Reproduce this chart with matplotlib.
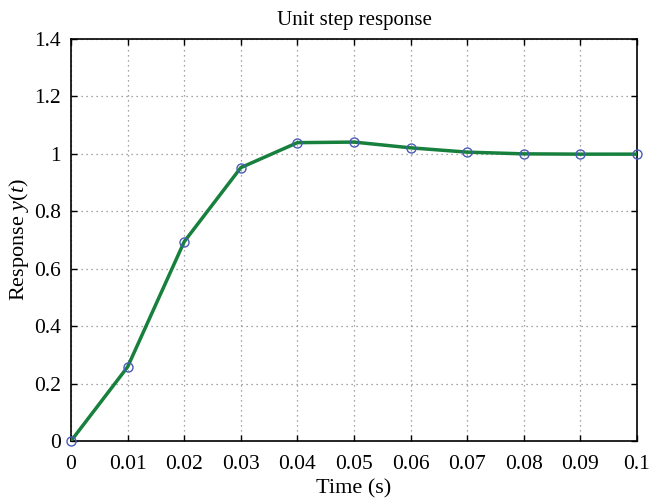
import matplotlib
matplotlib.use("Agg")
import matplotlib.pyplot as plt

t = [0, 0.01, 0.02, 0.03, 0.04, 0.05, 0.06, 0.07, 0.08, 0.09, 0.1]
y = [0, 0.258, 0.694, 0.952, 1.039, 1.041, 1.021, 1.006, 1.000, 0.999, 0.999]
xticks = [0, 0.01, 0.02, 0.03, 0.04, 0.05, 0.06, 0.07, 0.08, 0.09, 0.1]
xticklabels = ["0", "0.01", "0.02", "0.03", "0.04", "0.05", "0.06", "0.07", "0.08", "0.09", "0.1"]
yticks = [0, 0.2, 0.4, 0.6, 0.8, 1.0, 1.2, 1.4]
yticklabels = ["0", "0.2", "0.4", "0.6", "0.8", "1", "1.2", "1.4"]

plt.rcParams['font.family'] = ['Liberation Serif', 'DejaVu Serif']
plt.rcParams['mathtext.fontset'] = 'custom'
plt.rcParams['mathtext.it'] = 'Liberation Serif:italic'
plt.rcParams['mathtext.rm'] = 'Liberation Serif'

fig = plt.figure(figsize=(6.49, 4.98), dpi=100)
ax = fig.add_axes([71/649, 1-441/498, (637-71)/649, (441-39)/498])

ax.plot(t, y, color='#16803c', lw=2.5, zorder=3)
ax.plot(t, y, 'o', mfc='none', mec='#4a5ab8', ms=6.5, mew=1.0, zorder=4, clip_on=False)

ax.set_xlim(0, 0.1)
ax.set_ylim(0, 1.4)
ax.set_xticks(xticks)
ax.set_xticklabels(xticklabels)
ax.set_yticks(yticks)
ax.set_yticklabels(yticklabels)
ax.tick_params(direction='in', top=True, right=True, labelsize=15.5, length=4, width=1)
ax.tick_params(axis='x', pad=10)
ax.tick_params(axis='y', pad=7)
ax.grid(True, linestyle=(0, (1, 3)), color='#888888', lw=0.9)
for s in ax.spines.values():
    s.set_linewidth(1.2)
ax.set_title('Unit step response', fontsize=15, pad=10)
ax.set_xlabel('Time (s)', fontsize=16, labelpad=4)
ax.set_ylabel('Response $y(t)$', fontsize=16, labelpad=2)

fig.savefig('out.png', dpi=100)
